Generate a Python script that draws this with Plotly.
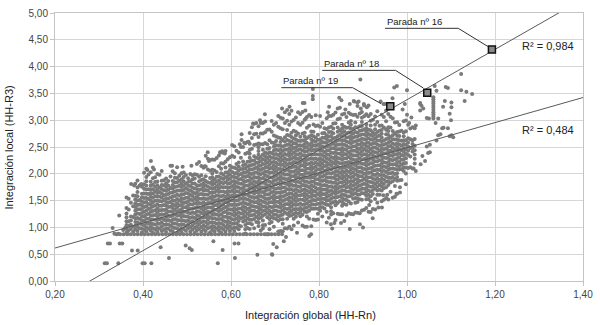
import numpy as np
import plotly.graph_objects as go

# ---- point cloud: dense bands per x column (each column is 0.02 wide) ----
col_x = [0.37, 0.39, 0.41, 0.43, 0.45, 0.47, 0.49, 0.51, 0.53, 0.55, 0.57, 0.59,
         0.61, 0.63, 0.65, 0.67, 0.69, 0.71, 0.73, 0.75, 0.77, 0.79, 0.81, 0.83,
         0.85, 0.87, 0.89, 0.91, 0.93, 0.95, 0.97, 0.99, 1.01]
core_lo = [0.90, 0.90, 0.90, 0.90, 0.90, 0.90, 0.90, 0.90, 0.90, 0.90, 0.90, 0.90,
           0.92, 0.94, 0.96, 1.00, 1.04, 1.04, 1.08, 1.12, 1.16, 1.22, 1.24, 1.30,
           1.35, 1.40, 1.42, 1.47, 1.52, 1.64, 1.78, 1.98, 2.25]
core_hi = [1.30, 1.70, 1.95, 1.98, 1.95, 2.00, 2.02, 2.02, 2.05, 2.05, 2.10, 2.18,
           2.25, 2.30, 2.42, 2.55, 2.62, 2.72, 2.80, 2.80, 2.80, 2.85, 2.88, 2.92,
           2.98, 3.00, 3.00, 3.00, 2.98, 2.92, 2.85, 2.80, 2.70]
fringe_lo = [0.90, 0.90, 0.90, 0.90, 0.90, 0.90, 0.90, 0.90, 0.90, 0.90, 0.90, 0.90,
             0.90, 0.88, 0.88, 0.90, 0.92, 0.92, 0.95, 0.98, 1.00, 1.02, 1.05, 1.10,
             1.12, 1.15, 1.20, 1.25, 1.30, 1.40, 1.55, 1.80, 2.00]
fringe_hi = [1.60, 1.95, 2.15, 2.12, 2.10, 2.15, 2.15, 2.15, 2.30, 2.42, 2.40, 2.45,
             2.55, 2.65, 2.95, 3.05, 3.00, 3.10, 3.20, 3.20, 3.20, 3.10, 3.10, 3.20,
             3.25, 3.25, 3.30, 3.30, 3.20, 3.20, 3.10, 3.00, 3.00]

# visible row of values along the lower edge of the cloud
row_y = 0.87
row_x_span = (0.34, 0.72)

# isolated stops outside the dense bands
extra_x = [0.313, 0.318, 0.344, 0.399, 0.404, 0.419, 0.320, 0.325, 0.347, 0.353, 0.375, 0.388,
           0.331, 0.346, 0.344, 0.335, 0.355, 0.360, 0.365, 0.373, 0.380, 0.396, 0.418, 0.410,
           0.425, 0.440, 0.459, 0.497, 0.506, 0.511, 0.547, 0.575, 0.580, 0.586, 0.550, 0.466,
           0.490, 0.510, 0.540, 0.560, 0.581, 0.570, 0.609, 0.608, 0.617, 0.660, 0.624, 0.624,
           0.620, 0.630, 0.640, 0.650, 0.666, 0.677, 0.696, 0.704, 0.693, 0.720, 0.725, 0.750,
           0.782, 0.778, 0.680, 0.685, 0.694, 0.827, 0.835, 0.850, 0.893, 0.922, 0.943, 0.955,
           0.830, 0.870, 0.900, 0.894, 0.786, 0.786, 0.786, 0.767, 0.769, 0.733, 0.716, 0.846,
           0.851, 0.860, 0.870, 0.880, 0.890, 0.895, 0.763, 0.770, 0.823, 0.820, 0.947, 0.879,
           0.887, 0.902, 0.909, 0.977, 0.971, 0.967, 1.000, 1.030, 1.033, 1.063, 1.067, 1.088,
           1.093, 1.123, 1.135, 1.148, 1.131, 1.101, 1.101, 1.097, 1.100, 1.093, 1.097, 1.071,
           1.082, 1.086, 1.071, 1.065, 1.080, 1.083, 1.076, 1.101, 1.105, 1.067, 1.052, 1.045,
           1.048, 1.035, 1.031, 1.041, 1.052, 1.123, 1.030, 1.037, 1.030, 0.984, 0.976, 0.984,
           0.946, 0.935, 0.914, 1.000, 1.005, 1.010, 1.020, 1.015, 1.020, 0.990, 0.995, 0.960,
           0.950, 0.940, 1.060, 1.060, 1.060, 1.060, 1.060, 1.060, 1.060, 1.060, 1.060, 1.060,
           1.060, 1.050, 1.045]
extra_y = [0.33, 0.33, 0.33, 0.33, 0.33, 0.33, 0.70, 0.70, 0.70, 0.70, 0.57, 0.57,
           0.99, 1.22, 0.88, 0.88, 0.95, 1.00, 0.88, 1.81, 1.78, 1.81, 2.24, 2.07,
           2.08, 0.63, 0.43, 0.66, 0.61, 0.58, 2.40, 2.40, 2.42, 2.38, 2.24, 2.15,
           2.13, 2.15, 2.14, 0.74, 0.58, 0.33, 0.43, 0.70, 0.70, 0.49, 2.74, 2.63,
           2.55, 2.58, 2.60, 2.94, 3.00, 3.11, 0.69, 0.63, 0.50, 0.74, 0.82, 0.90,
           0.87, 0.84, 0.87, 0.87, 0.49, 1.06, 1.08, 1.08, 1.06, 1.17, 1.37, 1.61,
           0.98, 0.97, 1.00, 3.76, 3.58, 3.45, 3.39, 3.32, 3.18, 3.25, 3.22, 3.42,
           3.37, 3.20, 3.30, 3.35, 3.35, 3.22, 3.32, 3.03, 3.25, 3.15, 3.30, 3.36,
           3.33, 3.30, 3.24, 3.64, 3.61, 3.41, 3.56, 3.32, 3.27, 3.64, 3.55, 3.62,
           3.60, 3.56, 3.53, 3.49, 3.36, 3.33, 3.24, 3.12, 3.00, 2.85, 2.70, 2.72,
           3.25, 3.36, 3.03, 2.95, 2.85, 2.86, 2.74, 2.72, 2.68, 2.62, 2.54, 2.51,
           2.39, 2.33, 2.18, 2.24, 2.40, 3.86, 3.18, 3.22, 3.30, 1.75, 1.63, 1.65,
           1.60, 1.37, 1.42, 3.10, 2.95, 3.05, 2.90, 2.10, 2.05, 3.20, 3.30, 3.25,
           3.30, 3.35, 3.03, 3.07, 3.11, 3.15, 3.19, 3.23, 3.27, 3.31, 3.35, 3.39,
           3.43, 3.03, 3.04]

# highlighted stops
stop_names = ["Parada nº 19", "Parada nº 18", "Parada nº 16"]
stop_x = [0.962, 1.046, 1.193]
stop_y = [3.26, 3.51, 4.32]

# overall linear trend of the cloud
trend_slope = 2.34
trend_intercept = 0.147
r2_stops = "R² = 0,984"
r2_all = "R² = 0,484"

# ---- build cloud coordinates from the bands ----
SUB = 0.005          # sub-column spacing
FSTEP = 0.20         # vertical spacing in the sparse fringe
# per-sub-column offsets that keep the fill from lining up into stripes
phases = [0.000, 0.047, 0.071, 0.018, 0.062, 0.033, 0.085, 0.009, 0.054, 0.026, 0.078,
          0.040, 0.003, 0.067, 0.022, 0.081, 0.035, 0.058, 0.012, 0.074, 0.044, 0.029,
          0.089, 0.006, 0.051, 0.016, 0.069, 0.038, 0.083, 0.024, 0.060]
steps = [0.072, 0.085, 0.078, 0.092, 0.070, 0.081, 0.088]
lo_jit = [0.00, 0.10, 0.03, 0.16, 0.06, 0.00, 0.12, 0.04, 0.20, 0.08, 0.02]
hi_jit = [0.00, -0.12, -0.04, -0.20, -0.07, 0.05, -0.15, -0.02, -0.10, 0.03, -0.18,
          -0.06, -0.13, 0.00, -0.09, -0.22, -0.03]

cx, cy = [], []
for i, x0 in enumerate(col_x):
    for k in range(4):
        x = round(x0 - 0.0075 + SUB * k, 4)
        j = 4 * i + k
        ph = phases[j % len(phases)]
        st = steps[j % len(steps)]
        lo = core_lo[i] + (lo_jit[j % len(lo_jit)] if core_lo[i] >= 0.94 else 0.0)
        hi = core_hi[i] + hi_jit[j % len(hi_jit)]
        y = lo + ph
        while y <= hi:
            cx.append(x); cy.append(y)
            y += st
        y = hi + 0.06 + 2.0 * ph
        while y <= fringe_hi[i]:
            cx.append(x); cy.append(y)
            y += FSTEP
        y = lo - 0.06 - 2.0 * ph
        while y >= fringe_lo[i]:
            cx.append(x); cy.append(y)
            y -= FSTEP
x = row_x_span[0]
while x <= row_x_span[1]:
    cx.append(x); cy.append(row_y)
    x = round(x + 0.008, 4)
cx += extra_x
cy += extra_y

# ---- figure ----
fig = go.Figure()
fig.add_trace(go.Scatter(x=cx, y=cy, mode="markers",
                         marker=dict(size=4, color="#7a7a7a", line=dict(width=0)),
                         hoverinfo="skip", showlegend=False))

line_x = np.array([0.2, 1.4])
fig.add_trace(go.Scatter(x=line_x, y=trend_slope * line_x + trend_intercept, mode="lines",
                         line=dict(color="#5a5a5a", width=1), showlegend=False))

k1, b1 = np.polyfit(stop_x, stop_y, 1)
fig.add_trace(go.Scatter(x=line_x, y=k1 * line_x + b1, mode="lines",
                         line=dict(color="#5a5a5a", width=1), showlegend=False))

fig.add_trace(go.Scatter(x=stop_x, y=stop_y, mode="markers",
                         marker=dict(symbol="square", size=7, color="#8a8a8a",
                                     line=dict(color="#111111", width=1.5)),
                         showlegend=False))

# plot geometry used to place labels at pixel offsets from the stops
X0, X1, Y0, Y1 = 0.2, 1.4, 0.0, 5.0
PW, PH = 533, 274
def dxp(p):
    return p * (X1 - X0) / PW
def dyp(p):
    return -p * (Y1 - Y0) / PH

# (text-left dx, underline dy, underline-end dx, tip dx, tip dy) in pixels
leader = [(-110, -19, -38, -9, -2.5),
          (-106, -23, -32, -4, -5),
          (-108, -21.6, -34, -4, -3)]

annotations = []
shapes = []
for name, sx, sy, (tl, uy, ue, tx, ty) in zip(stop_names, stop_x, stop_y, leader):
    shapes.append(dict(type="line", xref="x", yref="y",
                       x0=sx + dxp(tl), y0=sy + dyp(uy), x1=sx + dxp(ue), y1=sy + dyp(uy),
                       line=dict(color="#333333", width=1)))
    shapes.append(dict(type="line", xref="x", yref="y",
                       x0=sx + dxp(ue), y0=sy + dyp(uy), x1=sx + dxp(tx), y1=sy + dyp(ty),
                       line=dict(color="#333333", width=1)))
    annotations.append(dict(x=sx + dxp(tl), y=sy + dyp(uy - 7), xref="x", yref="y",
                            text=name, showarrow=False, xanchor="left", yanchor="middle",
                            font=dict(size=9.5, color="#222222")))

annotations.append(dict(x=1.256, y=4.39, xref="x", yref="y", text=r2_stops, showarrow=False,
                        xanchor="left", yanchor="middle", font=dict(size=11, color="#222222")))
annotations.append(dict(x=1.256, y=2.81, xref="x", yref="y", text=r2_all, showarrow=False,
                        xanchor="left", yanchor="middle", font=dict(size=11, color="#222222")))
annotations.append(dict(x=(313 - 55) / PW, y=-(316 - 281) / PH, xref="paper", yref="paper",
                        text="Integración global (HH-Rn)", showarrow=False,
                        xanchor="center", yanchor="middle", font=dict(size=11, color="#222222")))
annotations.append(dict(x=(9 - 55) / PW, y=0.5, xref="paper", yref="paper",
                        text="Integración local (HH-R3)", showarrow=False, textangle=-90,
                        xanchor="center", yanchor="middle", font=dict(size=11, color="#222222")))

axis_common = dict(showgrid=True, gridcolor="#d6d6d6", gridwidth=1, zeroline=False,
                   showline=True, linecolor="#c4c4c4", linewidth=1, mirror=True,
                   ticks="outside", ticklen=4, tickcolor="#c4c4c4",
                   tickformat=".2f", tickfont=dict(family="Liberation Sans, Arial", size=10,
                                                   color="#444444"))

fig.update_layout(
    width=600, height=325,
    margin=dict(l=55, r=12, t=7, b=44),
    paper_bgcolor="white", plot_bgcolor="white",
    separators=", ",
    font=dict(family="Liberation Sans, Arial, sans-serif"),
    xaxis=dict(range=[X0, X1], dtick=0.2, tick0=0.2, **axis_common),
    yaxis=dict(range=[Y0, Y1], dtick=0.5, tick0=0, **axis_common),
    shapes=shapes,
    annotations=annotations,
)

fig.write_html("out.html")
